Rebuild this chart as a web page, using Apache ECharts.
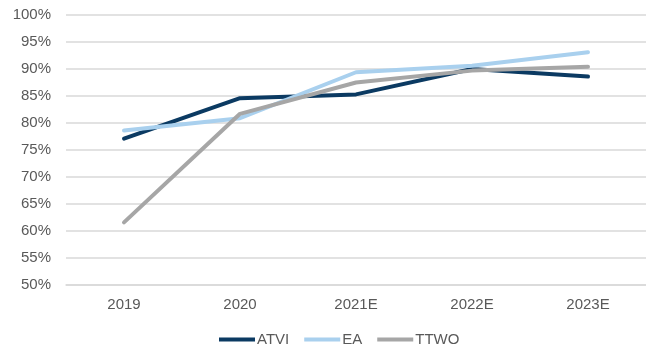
<!DOCTYPE html>
<html>
<head>
<meta charset="utf-8">
<script src="https://cdn.jsdelivr.net/npm/echarts@6/dist/echarts.min.js"></script>
<style>
  html, body { margin: 0; padding: 0; background: #fff; }
  #chart { width: 646px; height: 346px; }
</style>
</head>
<body>
<div id="chart"></div>
<script>
// Years on the category axis
const years = ['2019', '2020', '2021E', '2022E', '2023E'];

// Percentage values per company
const atvi = [77.1, 84.6, 85.3, 90.0, 88.6];
const ea   = [78.6, 80.9, 89.4, 90.6, 93.1];
const ttwo = [61.6, 81.7, 87.5, 89.7, 90.4];

const seriesNames = ['ATVI', 'EA', 'TTWO'];
const seriesColors = ['#0b3a62', '#a9d0ee', '#a6a6a6'];
const seriesData = [atvi, ea, ttwo];

const font = 'Liberation Sans, Arial, sans-serif';
const textColor = '#595959';

const chart = echarts.init(document.getElementById('chart'), null, { renderer: 'canvas' });

chart.setOption({
  animation: false,
  backgroundColor: '#ffffff',
  grid: { left: 66, top: 15, height: 270, width: 591 },
  legend: {
    left: 214,
    top: 327,
    icon: 'rect',
    itemWidth: 36,
    itemHeight: 4,
    itemGap: 15,
    textStyle: { fontFamily: font, fontSize: 15, color: textColor, padding: [0, 0, 0, -3] },
    data: seriesNames
  },
  xAxis: {
    type: 'category',
    data: years,
    boundaryGap: true,
    axisLine: { show: true, lineStyle: { color: '#d9d9d9', width: 1.5 } },
    axisTick: { show: false },
    axisLabel: { fontFamily: font, fontSize: 15, color: textColor, margin: 12 }
  },
  yAxis: {
    type: 'value',
    min: 50,
    max: 100,
    interval: 5,
    axisLine: { show: false },
    axisTick: { show: false },
    splitLine: { lineStyle: { color: '#d9d9d9', width: 1.5 } },
    axisLabel: {
      fontFamily: font, fontSize: 15, color: textColor, margin: 15,
      formatter: v => v + '%'
    }
  },
  series: seriesNames.map((name, i) => ({
    name: name,
    type: 'line',
    data: seriesData[i],
    symbol: 'none',
    lineStyle: { width: 4, color: seriesColors[i], cap: 'round', join: 'round' },
    itemStyle: { color: seriesColors[i] }
  }))
});
</script>
</body>
</html>
